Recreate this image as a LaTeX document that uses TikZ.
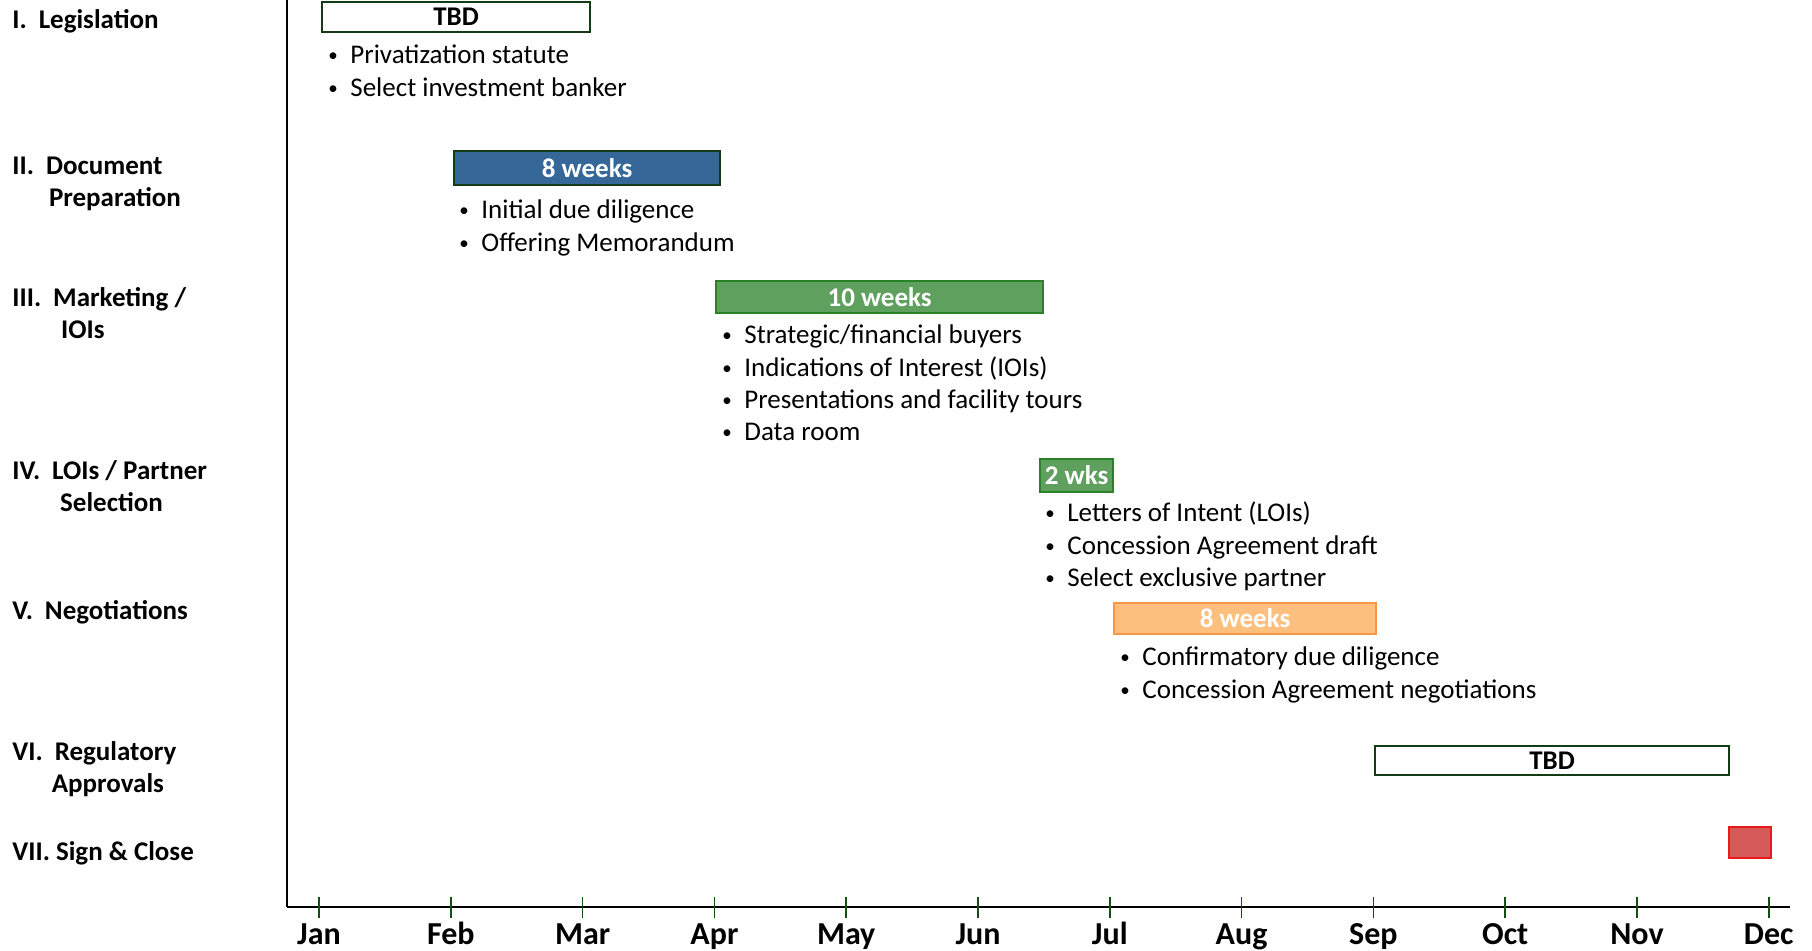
\documentclass[tikz,border=0pt]{standalone}
\usepackage{fontspec}
\setmainfont{Carlito}
\usetikzlibrary{positioning}
\definecolor{tbdline}{RGB}{20,60,20}
\definecolor{planblue}{RGB}{54,103,153}
\definecolor{mktgreen}{RGB}{95,160,95}
\definecolor{mktline}{RGB}{40,130,40}
\definecolor{negfill}{RGB}{253,191,125}
\definecolor{negline}{RGB}{247,150,70}
\definecolor{closefill}{RGB}{214,90,90}
\definecolor{closeline}{RGB}{235,25,25}
\definecolor{tickgreen}{RGB}{20,80,20}
\newcommand{\bul}{\strut\makebox[12pt][l]{\hspace{1pt}\raisebox{1pt}{\fontsize{9.5}{9.5}\selectfont\textbullet}}}
\newcommand{\phasetab}[1]{\begin{tabular}[t]{@{}l@{\hspace{6pt}}l@{}}#1\end{tabular}}

\begin{document}
\begin{tikzpicture}[x=0.5pt, y=-0.5pt,
  phase/.style={font=\fontsize{13.5}{16.2}\selectfont\bfseries, anchor=base west, inner sep=0pt},
  bar/.style={draw, line width=1.1pt, font=\fontsize{13.5}{16}\selectfont\bfseries, inner sep=0pt, anchor=north west},
  tbdbar/.style={bar, draw=tbdline, fill=white},
  items/.style={font=\fontsize{13.5}{16.1}\selectfont, align=left, anchor=north west, inner sep=0pt},
  month/.style={font=\fontsize{16}{18}\selectfont\bfseries, anchor=base}]
  \useasboundingbox (0,0) rectangle (1812,950);

  % Phases down the left side
  \node[phase] (p1) at (12,28) {\phasetab{I. & Legislation}};
  \node[phase] (p2) at (12,174) {\phasetab{II. & Document\\ & \hspace{1.5pt}Preparation}};
  \node[phase] (p3) at (12,306) {\phasetab{III. & Marketing /\\ & \hspace{4pt}IOIs}};
  \node[phase] (p4) at (12,479) {\phasetab{IV. & LOIs / Partner\\ & \hspace{4pt}Selection}};
  \node[phase] (p5) at (12,619) {\phasetab{V. & Negotiations}};
  \node[phase] (p6) at (12,760) {\phasetab{VI. & Regulatory\\ & \hspace{-1.5pt}Approvals}};
  \node[phase] (p7) at (12,860) {VII. Sign \& Close};

  % Axes
  \coordinate (top) at (287,0);
  \coordinate (origin) at (287,907);
  \coordinate (right) at (1790,907);
  \draw[line width=0.8pt] (top) -- (origin);
  \draw[line width=1.3pt] (origin) -- (right);
  \foreach \m [count=\i from 0] in {Jan,Feb,Mar,Apr,May,Jun,Jul,Aug,Sep,Oct,Nov,Dec} {
    \draw[tickgreen, line width=0.8pt] (319+131.8*\i,897) -- (319+131.8*\i,918);
    \node[month] (m\i) at (319+131.8*\i,944) {\m};
  }

  % Bars
  \node[tbdbar, minimum width=134pt, minimum height=15pt] (legbar) at (321,1) {TBD};
  \node[bar, draw=tbdline, fill=planblue, text=white, minimum width=133pt, minimum height=17pt] (docbar) at (453,150) {8 weeks};
  \node[bar, draw=mktline, fill=mktgreen, text=white, minimum width=163.5pt, minimum height=16pt] (mktbar) at (715,280) {10 weeks};
  \node[bar, draw=mktline, fill=mktgreen, text=white, minimum width=36.5pt, minimum height=16.5pt] (loibar) at (1039,458) {2 wks};
  \node[bar, draw=negline, fill=negfill, text=white, minimum width=131pt, minimum height=15.5pt] (negbar) at (1113,602) {8 weeks};
  \node[tbdbar, minimum width=177pt, minimum height=14.5pt] (regbar) at (1374,745) {TBD};
  \node[bar, draw=closeline, fill=closefill, minimum width=21pt, minimum height=15.5pt] (closebar) at (1728,826) {};

  % Tasks under each bar
  \node[items] (legitems) at (326,41) {\bul Privatization statute\\ \bul Select investment banker};
  \node[items] (docitems) at (457,196) {\bul Initial due diligence\\ \bul Offering Memorandum};
  \node[items] (mktitems) at (720,321) {\bul Strategic/financial buyers\\ \bul Indications of Interest (IOIs)\\
    \bul Presentations and facility tours\\ \bul Data room};
  \node[items] (loiitems) at (1043,499) {\bul Letters of Intent (LOIs)\\ \bul Concession Agreement draft\\
    \bul Select exclusive partner};
  \node[items] (negitems) at (1118,643) {\bul Confirmatory due diligence\\ \bul Concession Agreement negotiations};
\end{tikzpicture}
\end{document}
